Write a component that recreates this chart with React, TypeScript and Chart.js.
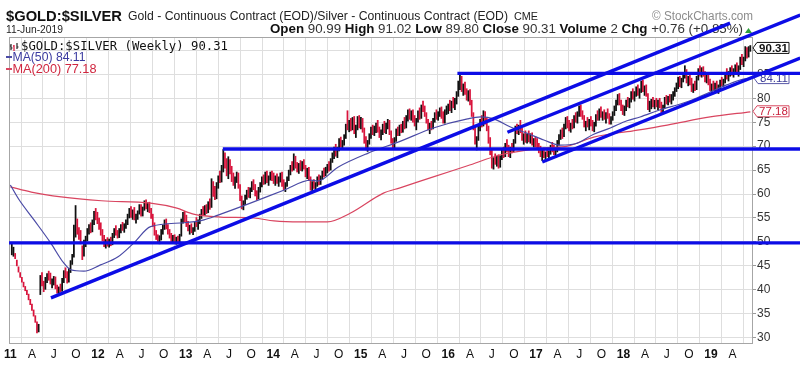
import { useEffect, useRef } from 'react';
import { Chart, registerables } from 'chart.js';
Chart.register(...registerables);

const FONT = "'Liberation Sans', Arial, Helvetica, sans-serif";
const MONO = "'DejaVu Sans Mono', 'Liberation Mono', monospace";
const BLACK = '#111111';
const RED = '#d8143c';
const BLUE = '#0c0ce6';
const MA50C = '#4a4aa6';
const MA200C = '#d94560';
const GRID = '#dedede';
const FRAME = '#a6a6a6';

// weekly bars: [high, low, close], first week ending 2011-01-07
const w2011 = [[49.8,47.3,47.6],[48.9,47.0,48.4],[47.6,46.5,46.7],[46.2,45.0,45.3],[44.8,43.7,44.0],[43.6,42.6,42.9],[42.6,41.6,41.9],[41.6,40.6,40.9],[40.7,39.8,40.1],[39.9,39.0,39.3],[39.1,37.9,38.2],[38.0,36.9,37.2],[37.0,35.7,36.0],[35.8,34.5,34.8],[34.6,33.2,33.5],[33.3,31.0,31.4],[32.8,31.2,32.4],[43.0,39.0,42.4],[43.6,40.8,41.2],[41.8,39.6,40.3],[42.6,40.1,42.2],[43.4,41.5,42.9],[43.9,42.0,42.4],[43.5,41.2,41.6],[42.3,40.4,41.9],[42.8,41.0,42.5],[42.7,40.2,40.6],[41.0,39.3,39.7],[40.6,39.0,40.3],[41.2,39.6,39.9],[42.4,39.7,42.0],[44.0,41.5,43.4],[44.6,42.5,42.9],[43.8,41.4,41.8],[44.5,41.6,44.0],[46.1,43.6,45.7],[47.4,45.3,46.9],[53.5,46.8,52.9],[57.6,51.0,53.5],[54.8,51.6,52.1],[53.0,50.5,51.0],[52.4,49.6,50.2],[49.2,46.3,46.9],[50.4,47.0,49.8],[51.2,49.0,50.6],[52.8,50.2,52.4],[53.6,51.6,53.1],[54.0,51.9,52.3],[54.6,52.1,54.2],[56.4,53.6,55.9],[57.0,54.6,55.2],[56.2,53.8,54.6]];
const w2012 = [[55.0,52.6,53.0],[54.0,51.4,51.8],[52.6,50.2,50.7],[51.4,49.0,49.6],[50.5,48.7,50.1],[50.9,49.1,49.4],[50.6,48.9,50.3],[51.0,49.2,49.5],[51.8,49.4,51.4],[52.8,50.9,52.5],[53.4,51.4,51.8],[52.4,50.8,51.3],[52.8,50.9,52.3],[53.6,51.9,53.2],[54.1,52.4,52.8],[53.8,52.0,53.4],[54.6,52.8,54.2],[55.8,53.6,55.5],[57.0,55.0,56.6],[57.4,55.1,55.5],[56.7,54.7,56.2],[57.2,54.6,55.0],[55.8,53.9,55.3],[56.5,54.7,56.1],[57.8,55.8,57.4],[57.8,55.4,55.8],[57.3,55.4,57.0],[58.6,56.6,58.1],[58.8,56.9,57.3],[58.2,56.3,57.8],[58.3,56.1,56.5],[57.0,54.9,55.2],[55.8,53.2,53.5],[54.0,51.4,51.8],[52.4,50.5,50.9],[51.5,49.7,50.2],[51.3,49.6,50.8],[52.6,50.4,52.2],[53.5,51.6,53.1],[54.6,52.6,54.2],[54.8,52.7,53.1],[53.6,51.6,52.0],[52.6,50.8,51.2],[51.8,49.9,50.5],[51.4,49.7,51.0],[51.5,49.9,50.3],[51.0,49.5,50.8],[51.2,49.6,50.0],[51.6,49.8,51.3],[54.8,51.2,54.4],[56.2,53.9,55.6],[56.4,54.2,54.7]];
const w2013 = [[55.6,53.2,53.6],[54.3,52.3,52.7],[53.5,51.6,53.1],[53.8,51.9,52.3],[53.0,51.5,52.8],[54.2,52.2,53.9],[55.1,53.2,53.6],[54.6,52.6,54.2],[55.8,53.8,55.4],[56.8,54.9,56.3],[57.4,55.6,56.0],[57.6,55.5,57.2],[57.8,55.9,56.4],[58.4,56.1,58.0],[59.0,56.8,57.4],[63.2,57.2,61.8],[62.6,59.5,60.1],[61.6,58.8,59.3],[62.4,59.0,61.9],[63.8,61.2,63.3],[64.8,62.4,63.0],[66.0,62.5,65.4],[69.3,64.6,67.8],[68.6,65.4,66.0],[67.4,63.8,64.3],[67.8,63.2,66.4],[67.2,64.2,64.6],[65.8,62.6,63.1],[64.4,61.8,62.3],[63.6,61.2,63.1],[64.6,62.4,64.1],[64.4,61.2,61.6],[62.0,58.6,59.1],[59.6,56.9,57.4],[58.6,56.7,58.2],[59.8,57.8,59.4],[60.8,58.9,60.3],[61.4,59.3,59.7],[61.3,59.2,60.9],[62.6,60.5,62.2],[63.0,60.9,61.4],[62.0,59.6,60.0],[60.7,58.8,59.2],[61.4,59.0,61.0],[62.4,60.4,62.0],[63.6,61.5,63.1],[64.0,62.0,62.4],[64.6,62.1,64.2],[64.8,62.4,62.8],[63.8,61.8,63.4],[64.6,62.9,64.2],[64.8,62.8,63.3]];
const w2014 = [[64.4,62.2,62.6],[63.8,61.8,63.3],[64.2,62.2,62.7],[63.6,61.6,63.1],[64.4,62.5,64.0],[64.6,61.6,62.0],[63.0,60.9,61.3],[62.4,60.5,62.0],[63.6,61.6,63.2],[65.0,62.8,64.6],[66.0,64.0,65.6],[66.8,64.8,65.3],[68.4,65.0,67.6],[67.9,65.4,65.9],[66.6,64.6,65.1],[66.4,64.3,66.0],[67.0,64.9,65.4],[66.8,64.8,66.4],[67.2,65.2,65.6],[66.0,63.6,64.0],[65.4,63.2,64.9],[65.6,62.8,63.2],[63.6,60.8,61.4],[62.6,60.6,62.1],[63.0,61.2,61.6],[62.4,60.9,62.0],[63.6,61.6,63.2],[64.0,61.9,62.4],[63.8,62.0,63.5],[64.8,63.0,64.5],[65.4,63.6,64.0],[65.6,63.8,65.2],[66.2,64.4,65.8],[66.8,64.8,65.3],[67.4,65.0,67.0],[68.6,66.6,68.2],[69.8,67.4,69.3],[70.4,67.9,68.4],[69.8,67.6,69.4],[71.6,69.0,71.1],[71.9,69.8,70.3],[71.2,69.6,70.8],[72.4,70.2,72.0],[74.6,71.6,74.2],[77.4,73.4,74.0],[75.4,73.0,74.8],[75.8,73.2,73.6],[76.0,73.4,75.6],[76.2,72.6,73.1],[74.4,71.8,73.9],[76.2,73.4,75.8],[76.4,73.8,74.2]];
const w2015 = [[76.0,73.6,75.4],[75.8,72.9,73.4],[73.8,70.6,71.2],[72.0,69.2,69.8],[71.2,68.9,70.9],[72.6,70.4,72.2],[74.0,71.6,73.6],[74.4,72.4,72.8],[74.2,72.2,73.7],[74.8,72.8,74.4],[75.4,72.9,73.3],[74.0,71.8,72.2],[73.4,71.3,72.9],[74.6,72.4,74.1],[75.2,72.8,73.3],[74.8,72.6,74.4],[75.6,73.6,75.1],[75.4,72.4,72.8],[73.2,70.6,71.0],[71.6,69.4,69.9],[71.8,69.6,71.4],[73.6,71.0,73.2],[74.0,72.2,72.6],[74.4,72.2,74.0],[74.6,72.8,73.3],[75.2,72.9,74.8],[76.0,73.6,74.1],[76.4,73.8,76.0],[77.6,75.2,77.2],[77.8,75.6,76.0],[77.4,75.4,77.0],[77.6,75.0,75.4],[76.4,74.2,74.6],[75.8,73.4,75.4],[77.4,75.0,77.0],[78.0,75.6,76.1],[78.6,75.8,78.2],[79.4,77.2,77.6],[78.4,76.2,76.6],[77.0,74.8,75.2],[75.6,73.4,73.8],[74.8,72.6,74.4],[75.2,73.4,73.9],[75.8,73.6,75.4],[77.0,75.0,76.6],[77.6,75.6,76.0],[77.2,75.4,76.9],[78.0,76.2,77.6],[78.2,75.8,76.2],[77.2,74.8,75.2],[77.6,74.8,77.2],[78.4,76.6,78.0]];
const w2016 = [[78.8,76.8,78.4],[79.6,77.4,77.8],[79.4,77.0,79.0],[80.2,78.0,78.4],[80.0,77.6,79.6],[81.4,78.8,80.9],[83.6,80.4,83.1],[85.3,81.8,84.0],[84.6,81.4,81.9],[83.0,80.6,82.6],[83.4,80.8,81.2],[82.0,79.6,80.0],[81.6,79.4,81.2],[81.8,78.6,79.0],[79.6,76.2,76.6],[77.0,73.4,73.8],[74.2,70.4,70.9],[72.0,69.2,71.6],[74.2,71.2,73.8],[75.6,73.2,75.2],[76.4,74.0,74.5],[77.4,74.2,76.9],[77.2,74.6,75.0],[75.8,73.2,73.6],[74.2,70.6,71.0],[71.8,68.2,68.6],[69.2,65.4,66.0],[67.6,65.2,67.2],[68.4,66.2,66.6],[67.9,65.8,67.5],[68.2,65.4,65.9],[68.0,65.6,67.6],[69.4,67.2,68.9],[69.8,67.6,68.2],[70.6,67.8,70.2],[71.4,68.8,69.3],[70.2,67.8,68.3],[69.8,67.6,69.4],[70.6,68.6,69.0],[71.4,68.8,71.0],[74.2,70.6,73.8],[74.6,72.6,73.0],[74.4,72.4,74.0],[75.4,72.8,73.2],[73.8,71.2,71.6],[72.6,70.4,72.2],[73.2,70.8,71.3],[72.6,70.6,72.1],[73.2,70.9,71.4],[72.6,70.6,72.2],[72.8,70.2,70.6],[71.6,69.8,71.2],[72.0,69.8,70.2]];
const w2017 = [[71.6,69.4,69.8],[70.6,68.6,69.0],[70.0,67.8,68.2],[69.2,67.0,68.8],[69.6,67.6,68.0],[68.8,67.2,68.6],[69.4,67.8,68.2],[69.0,67.4,68.7],[70.2,68.3,69.8],[70.8,68.8,69.3],[70.2,68.2,68.6],[69.4,67.6,69.0],[71.2,68.8,70.8],[72.4,70.2,71.9],[73.4,71.4,73.0],[73.8,71.6,72.2],[74.6,72.0,74.2],[76.0,73.6,75.4],[76.2,73.8,74.3],[75.4,73.2,73.6],[74.8,72.9,74.4],[75.6,73.6,74.0],[76.4,73.8,75.9],[77.0,75.0,75.5],[77.2,74.8,76.8],[78.4,76.2,77.9],[78.6,76.2,76.6],[77.4,75.6,76.0],[76.4,74.0,74.4],[75.2,73.2,74.8],[76.0,74.0,74.4],[75.6,73.4,75.2],[76.2,74.2,74.6],[75.4,73.2,73.7],[75.0,73.0,74.6],[76.6,74.2,76.2],[77.4,75.4,75.8],[77.8,75.4,77.4],[78.2,76.0,76.4],[77.2,75.4,76.8],[77.6,75.6,76.0],[77.0,74.8,76.6],[77.8,75.8,76.3],[76.8,74.6,75.0],[76.2,74.6,75.8],[77.2,75.4,76.8],[78.4,76.4,78.0],[79.6,77.4,79.2],[80.8,78.6,80.2],[81.0,78.6,79.0],[79.6,77.4,77.8],[78.6,76.6,77.0]];
const w2018 = [[78.4,76.4,77.9],[79.6,77.4,79.2],[80.2,78.2,78.6],[80.0,78.0,79.6],[81.4,79.2,81.0],[82.0,79.8,80.2],[81.4,79.4,80.9],[82.4,80.4,82.0],[82.8,80.6,81.0],[82.0,80.0,81.6],[83.6,81.2,83.2],[83.8,81.4,81.8],[82.6,80.6,82.2],[82.8,80.4,80.8],[81.0,77.6,78.2],[79.4,77.2,78.9],[79.8,77.8,79.4],[80.2,78.2,78.6],[79.6,77.8,79.2],[80.0,78.2,78.6],[79.6,77.6,79.3],[80.0,78.0,78.4],[79.2,76.8,77.2],[78.6,76.8,78.4],[80.2,78.0,79.8],[80.6,78.8,79.3],[80.4,78.6,80.0],[80.8,79.2,79.6],[80.8,78.8,80.4],[81.4,79.6,81.0],[82.2,80.4,81.9],[83.2,81.4,82.8],[84.4,82.0,83.9],[84.6,82.4,82.8],[84.2,82.2,83.8],[85.4,83.4,85.0],[86.8,84.2,85.6],[86.0,83.2,83.6],[84.6,82.6,84.2],[85.0,82.8,83.2],[84.2,81.4,81.8],[83.0,81.2,82.6],[83.6,81.6,82.0],[84.6,81.8,84.2],[86.2,83.8,85.8],[86.8,84.6,85.0],[86.4,84.4,85.9],[86.6,84.6,85.0],[85.6,83.4,83.8],[85.2,83.2,84.8],[85.4,82.8,83.2],[84.0,81.6,82.0]];
const w2019 = [[83.0,80.8,82.6],[83.6,81.8,82.2],[83.2,81.4,82.8],[83.6,81.6,82.0],[82.8,81.0,82.4],[83.8,82.0,83.4],[84.4,82.6,83.0],[84.0,82.4,83.6],[85.4,83.2,85.0],[86.2,84.0,84.4],[85.6,83.6,85.2],[86.4,84.6,86.0],[86.8,84.8,85.2],[86.2,84.4,85.9],[87.0,85.2,86.6],[87.4,85.4,85.8],[86.8,84.6,86.4],[88.6,86.0,88.2],[89.2,87.0,87.4],[88.6,86.6,88.2],[90.8,87.8,90.4],[90.6,88.4,88.9],[90.8,88.6,89.55],[91.02,89.80,90.31]];

// moving averages [fractional year, value]
const ma50Points = [[2011.0,61.9],[2011.10,58.8],[2011.27,54.6],[2011.46,49.8],[2011.61,45.6],[2011.69,44.2],[2011.84,43.9],[2012.03,45.2],[2012.23,46.9],[2012.41,49.8],[2012.60,53.2],[2012.98,54.0],[2013.21,54.6],[2013.37,55.6],[2013.74,58.1],[2014.12,60.8],[2014.43,62.9],[2014.51,62.7],[2014.74,65.6],[2015.08,68.5],[2015.45,71.0],[2015.83,73.8],[2016.22,75.7],[2016.37,76.1],[2016.52,75.7],[2016.71,74.0],[2016.90,72.7],[2017.09,71.3],[2017.28,70.2],[2017.45,70.5],[2017.66,72.5],[2017.85,73.8],[2018.04,75.3],[2018.19,76.1],[2018.42,77.6],[2018.65,78.8],[2018.79,79.7],[2018.99,81.3],[2019.18,82.8],[2019.37,84.0],[2019.45,84.11]];
const ma200Points = [[2011.0,61.5],[2011.24,60.4],[2011.58,59.4],[2012.04,58.6],[2012.60,58.1],[2012.89,57.1],[2013.09,55.8],[2013.40,55.2],[2013.78,55.0],[2014.01,54.4],[2014.31,54.2],[2014.62,54.2],[2014.88,56.0],[2015.26,60.2],[2015.45,61.3],[2015.83,63.6],[2016.22,65.9],[2016.60,68.2],[2017.09,69.6],[2017.36,70.0],[2017.66,71.9],[2018.11,73.2],[2018.50,74.4],[2018.99,76.1],[2019.45,77.18]];

// hand-drawn trend lines [[year, value], [year, value]]
const trendLines = [
  [[2010.985, 49.8], [2020.02, 49.8]],
  [[2013.425, 69.4], [2020.02, 69.4]],
  [[2016.105, 85.2], [2020.02, 85.2]],
  [[2011.464, 38.3], [2019.218, 95.7]],
  [[2016.675, 72.9], [2020.02, 97.4]],
  [[2017.072, 66.7], [2020.02, 88.4]],
];

const yTickValues = [30, 35, 40, 45, 50, 55, 60, 65, 70, 75, 80, 85, 90];
const monthLabels: Record<number, string> = { 3: 'A', 6: 'J', 9: 'O' };
const lastValues = { price: 90.31, ma50: 84.11, ma200: 77.18 };
const titleSymbol = '$GOLD:$SILVER';
const titleDesc = 'Gold - Continuous Contract (EOD)/Silver - Continuous Contract (EOD)';
const titleExchange = 'CME';
const asOfDate = '11-Jun-2019';
const quoteParts: [string, boolean][] = [['Open', true], [' 90.99 ', false], ['High', true], [' 91.02 ', false], ['Low', true], [' 89.80 ', false], ['Close', true], [' 90.31 ', false], ['Volume', true], [' 2 ', false], ['Chg', true], [' +0.76 (+0.85%)', false]];

const DAY = 86400000;
const toMs = (t: number) => {
  const y = Math.floor(t);
  const s = Date.UTC(y, 0, 1);
  const e = Date.UTC(y + 1, 0, 1);
  return s + (t - y) * (e - s);
};
const X_MIN = toMs(2010.985);
const X_MAX = toMs(2019.48);
const Y_MIN = 28.89;
const Y_MAX = 92.8;

function drawFit(ctx: CanvasRenderingContext2D, text: string, x: number, y: number, width: number, font: string, color: string) {
  ctx.font = font;
  const w = ctx.measureText(text).width;
  let sx = width / w;
  sx = Math.max(0.8, Math.min(1.2, sx));
  ctx.save();
  ctx.translate(x, y);
  ctx.scale(sx, 1);
  ctx.fillStyle = color;
  ctx.textAlign = 'left';
  ctx.textBaseline = 'alphabetic';
  ctx.fillText(text, 0, 0);
  ctx.restore();
}

function valueBox(ctx: CanvasRenderingContext2D, tipX: number, yc: number, text: string, stroke: string, color: string, bold: boolean) {
  const left = tipX + 4, right = 789, h = 11;
  ctx.save();
  ctx.beginPath();
  ctx.moveTo(tipX, yc);
  ctx.lineTo(left, yc - h / 2);
  ctx.lineTo(right, yc - h / 2);
  ctx.lineTo(right, yc + h / 2);
  ctx.lineTo(left, yc + h / 2);
  ctx.closePath();
  ctx.fillStyle = '#ffffff';
  ctx.fill();
  ctx.strokeStyle = stroke;
  ctx.lineWidth = 1;
  ctx.stroke();
  ctx.fillStyle = color;
  ctx.font = `${bold ? 'bold ' : ''}11.5px ${FONT}`;
  ctx.textAlign = 'center';
  ctx.textBaseline = 'middle';
  ctx.fillText(text, (left + right) / 2 + 0.5, yc + 0.5);
  ctx.restore();
}

const decorPlugin = {
  id: 'decor',
  beforeDatasetsDraw(chart: any) {
    const { ctx, chartArea: a, scales } = chart;
    ctx.save();
    ctx.strokeStyle = FRAME;
    ctx.lineWidth = 1;
    ctx.strokeRect(Math.round(a.left) + 0.5, Math.round(a.top) + 0.5, Math.round(a.right - a.left) - 1, Math.round(a.bottom - a.top));
    drawFit(ctx, titleSymbol, 6, 20.5, 116, `bold 15px ${FONT}`, '#111');
    drawFit(ctx, titleDesc, 128, 20, 380, `12px ${FONT}`, '#222');
    drawFit(ctx, titleExchange, 514, 20, 24, `11px ${FONT}`, '#222');
    drawFit(ctx, '\u00A9 StockCharts.com', 652, 20, 101, `12px ${FONT}`, '#8c8c8c');
    drawFit(ctx, asOfDate, 6, 33, 57, `11px ${FONT}`, '#222');
    let total = 0;
    for (const [t, b] of quoteParts) {
      ctx.font = `${b ? 'bold ' : ''}12px ${FONT}`;
      total += ctx.measureText(t).width;
    }
    const sx = 473 / total;
    let cx = 0;
    ctx.save();
    ctx.translate(270, 33);
    ctx.scale(sx, 1);
    for (const [t, b] of quoteParts) {
      ctx.font = `${b ? 'bold ' : ''}12px ${FONT}`;
      ctx.fillStyle = b ? '#111' : '#333';
      ctx.fillText(t, cx, 0);
      cx += ctx.measureText(t).width;
    }
    ctx.restore();
    ctx.fillStyle = '#2e9e3a';
    ctx.beginPath();
    ctx.moveTo(748.5, 28);
    ctx.lineTo(752, 33);
    ctx.lineTo(745, 33);
    ctx.closePath();
    ctx.fill();
    ctx.lineWidth = 1.2;
    ctx.strokeStyle = '#222';
    ctx.beginPath(); ctx.moveTo(11, 44); ctx.lineTo(11, 50); ctx.moveTo(10, 46); ctx.lineTo(11, 46); ctx.moveTo(11, 48); ctx.lineTo(12.5, 48); ctx.stroke();
    ctx.strokeStyle = RED;
    ctx.beginPath(); ctx.moveTo(14, 45); ctx.lineTo(14, 51); ctx.moveTo(13, 46); ctx.lineTo(14, 46); ctx.stroke();
    ctx.strokeStyle = '#222';
    ctx.beginPath(); ctx.moveTo(17, 43); ctx.lineTo(17, 49); ctx.moveTo(17, 47); ctx.lineTo(18.5, 47); ctx.stroke();
    drawFit(ctx, `${titleSymbol} (Weekly) ${lastValues.price.toFixed(2)}`, 21, 49.5, 207, `12px ${MONO}`, '#111');
    ctx.lineWidth = 2;
    ctx.strokeStyle = MA50C;
    ctx.beginPath(); ctx.moveTo(6, 57); ctx.lineTo(12, 57); ctx.stroke();
    drawFit(ctx, `MA(50) ${lastValues.ma50.toFixed(2)}`, 12.5, 61, 73, `12px ${FONT}`, '#3a3aa0');
    ctx.strokeStyle = MA200C;
    ctx.beginPath(); ctx.moveTo(6, 69); ctx.lineTo(12, 69); ctx.stroke();
    drawFit(ctx, `MA(200) ${lastValues.ma200.toFixed(2)}`, 12.5, 73, 84, `12px ${FONT}`, '#d0263f');
    const ys = scales.y;
    const tip = a.right;
    valueBox(ctx, tip, ys.getPixelForValue(lastValues.price) - 1, lastValues.price.toFixed(2), '#111', '#111', true);
    valueBox(ctx, tip + 1, ys.getPixelForValue(lastValues.ma50) - 0.5, lastValues.ma50.toFixed(2), '#5858a8', '#3c3c96', false);
    valueBox(ctx, tip, ys.getPixelForValue(lastValues.ma200) - 0.5, lastValues.ma200.toFixed(2), '#d84a62', '#c8203c', false);
    ctx.restore();
  },
};

export default function App() {
  const ref = useRef<HTMLCanvasElement | null>(null);
  useEffect(() => {
    const canvas = ref.current;
    if (!canvas) return;
    const weekly = [...w2011, ...w2012, ...w2013, ...w2014, ...w2015, ...w2016, ...w2017, ...w2018, ...w2019];
    const start = Date.UTC(2011, 0, 7);
    const barData = weekly.map((b, i) => ({ x: start + i * 7 * DAY, y: [b[1], b[0]] }));
    const barColors = weekly.map((b, i) => (i === 0 || b[2] >= weekly[i - 1][2] ? BLACK : RED));
    const ma50Data = ma50Points.map(([t, v]) => ({ x: toMs(t), y: v }));
    const ma200Data = ma200Points.map(([t, v]) => ({ x: toMs(t), y: v }));
    const quarterTicks: number[] = [];
    for (let y = 2011; y <= 2019; y++) {
      for (const m of [0, 3, 6, 9]) {
        const v = Date.UTC(y, m, 1);
        if (v >= X_MIN && v <= X_MAX) quarterTicks.push(v);
      }
    }
    const trendSets = trendLines.map((pts) => ({
      type: 'line' as const,
      data: pts.map(([t, v]) => ({ x: toMs(t), y: v })),
      borderColor: BLUE,
      borderWidth: 3.4,
      pointRadius: 0,
      clip: false as any,
      order: 0,
      borderCapStyle: 'butt' as const,
    }));
    const chart = new Chart(canvas, {
      type: 'bar',
      data: {
        datasets: [
          ...trendSets,
          { type: 'line', data: ma50Data, borderColor: MA50C, borderWidth: 1.2, pointRadius: 0, cubicInterpolationMode: 'monotone', order: 1 },
          { type: 'line', data: ma200Data, borderColor: MA200C, borderWidth: 1.2, pointRadius: 0, cubicInterpolationMode: 'monotone', order: 1 },
          { type: 'bar', data: barData as any, backgroundColor: barColors, borderWidth: 0, barThickness: 1.1, grouped: false, order: 2 },
        ] as any,
      },
      options: {
        responsive: false,
        animation: false,
        devicePixelRatio: 1,
        events: [],
        layout: { padding: { left: 8, top: 37, right: 0, bottom: 0 } },
        plugins: { legend: { display: false }, tooltip: { enabled: false }, title: { display: false } },
        scales: {
          x: {
            type: 'linear',
            min: X_MIN,
            max: X_MAX,
            offset: false,
            afterBuildTicks: (s: any) => { s.ticks = quarterTicks.map((v) => ({ value: v })); },
            afterFit: (s: any) => { s.height = 24; },
            grid: { color: GRID, drawTicks: false, lineWidth: 1 },
            border: { display: false },
            ticks: {
              autoSkip: false,
              maxRotation: 0,
              minRotation: 0,
              padding: 4,
              color: '#111',
              font: (c: any) => {
                const v = c.tick ? c.tick.value : 0;
                const yr = new Date(v).getUTCMonth() === 0;
                return { family: FONT, size: 12, weight: yr ? 'bold' : 'normal' } as any;
              },
              callback: (v: any) => {
                const d = new Date(Number(v));
                const m = d.getUTCMonth();
                return m === 0 ? String(d.getUTCFullYear()).slice(2) : monthLabels[m] || '';
              },
            },
          },
          y: {
            type: 'linear',
            position: 'right',
            min: Y_MIN,
            max: Y_MAX,
            afterBuildTicks: (s: any) => { s.ticks = yTickValues.map((v) => ({ value: v })); },
            afterFit: (s: any) => { s.width = 47; },
            grid: { color: GRID, tickLength: 3, tickColor: '#9a9a9a', lineWidth: 1 },
            border: { display: false },
            ticks: { padding: 1, color: '#333', font: { family: FONT, size: 12 } },
          },
        },
      } as any,
      plugins: [decorPlugin],
    });
    return () => chart.destroy();
  }, []);
  return (
    <div style={{ position: 'fixed', left: 0, top: 0, width: 800, height: 367, background: '#ffffff' }}>
      <canvas ref={ref} width={800} height={367} style={{ display: 'block', width: 800, height: 367 }} />
    </div>
  );
}
